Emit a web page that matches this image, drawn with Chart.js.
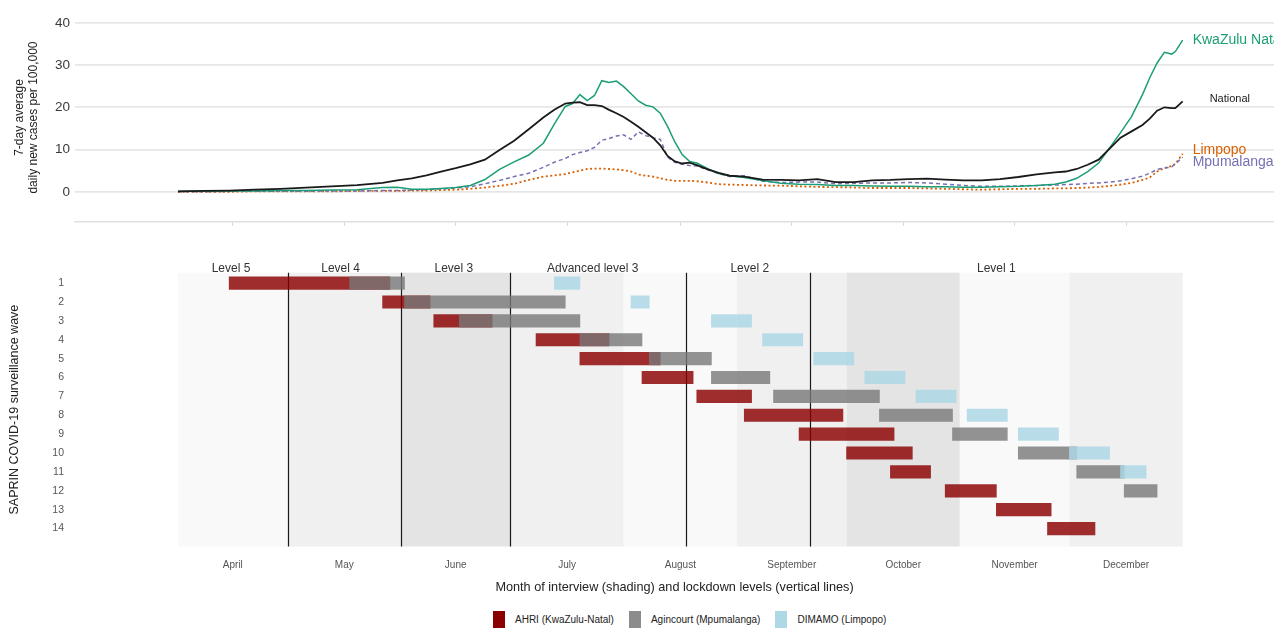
<!DOCTYPE html>
<html>
<head>
<meta charset="utf-8">
<script src="https://cdn.jsdelivr.net/npm/chart.js@4.4.1/dist/chart.umd.min.js"></script>
<style>
  html, body { margin: 0; padding: 0; background: #fff; }
  body { width: 1274px; height: 628px; overflow: hidden; position: relative;
         font-family: 'Liberation Sans', Arial, sans-serif; }
  #casesChart { position: absolute; left: 0; top: 0; }
  #wavesChart { position: absolute; left: 0; top: 250px; }
  #legend { position: absolute; left: 493px; top: 611px; display: flex;
            font-family: 'Liberation Sans Narrow', 'Arial Narrow', 'Liberation Sans', sans-serif;
            font-size: 10px; color: #222; }
  #legend .item { display: flex; margin-right: 15px; }
  #legend .swatch { width: 12px; height: 17px; margin-right: 10px; }
  #legend span { line-height: 17px; }
</style>
</head>
<body>
<canvas id="casesChart" width="1274" height="235"></canvas>
<canvas id="wavesChart" width="1274" height="345"></canvas>
<div id="legend"></div>
<script>
// days counted from 1 April 2020
const days = [0, 7, 14, 21, 28, 35, 42, 49, 56, 60, 64, 68, 72, 76, 80, 84, 88, 92, 96, 100,
  103, 106, 108, 110, 112, 114, 116, 118, 120, 122, 124, 126, 128, 130, 132, 134, 136, 138, 140, 142,
  145, 148, 151, 155, 160, 165, 170, 175, 180, 185, 190, 195, 200, 205, 210, 215, 220, 225, 230, 235, 240,
  243, 246, 249, 252, 255, 258, 261, 264, 266, 268, 270, 272, 273, 275];

const nationalCases = [0.1, 0.2, 0.3, 0.5, 0.7, 1.0, 1.3, 1.6, 2.1, 2.7, 3.2, 3.9, 4.8, 5.6, 6.5, 7.6, 9.9, 12.1, 14.8, 17.6,
  19.4, 20.9, 21.1, 21.2, 20.5, 20.5, 20.3, 19.4, 18.6, 17.7, 16.6, 15.4, 14.1, 12.8, 11.0, 8.5, 7.2, 6.7, 6.9, 6.3,
  5.3, 4.5, 3.8, 3.6, 2.9, 2.8, 2.7, 3.0, 2.3, 2.3, 2.7, 2.8, 3.0, 3.1, 2.9, 2.7, 2.7, 3.0, 3.5, 4.1, 4.6,
  4.8, 5.4, 6.4, 7.6, 10.2, 12.8, 14.3, 15.8, 17.3, 19.2, 20.0, 19.8, 19.8, 21.4];

const kznCases = [0.1, 0.1, 0.2, 0.2, 0.3, 0.3, 0.4, 0.5, 1.0, 1.1, 0.6, 0.6, 0.8, 1.0, 1.5, 2.9, 5.3, 7.1, 8.7, 11.5,
  16.0, 20.2, 20.9, 23.0, 21.6, 22.8, 26.3, 25.9, 26.2, 24.9, 23.2, 21.5, 20.5, 20.1, 18.6, 15.5, 11.8, 8.8, 7.2, 6.8,
  5.5, 4.3, 3.8, 3.4, 2.7, 2.0, 1.8, 1.7, 1.5, 1.5, 1.4, 1.3, 1.3, 1.2, 1.2, 1.1, 1.1, 1.2, 1.3, 1.5, 1.8,
  2.3, 3.2, 4.8, 6.8, 10.4, 14.0, 17.8, 23.0, 27.0, 30.5, 33.0, 32.6, 33.2, 35.9];

const mpumalangaCases = [0.0, 0.0, 0.1, 0.1, 0.1, 0.1, 0.2, 0.2, 0.3, 0.3, 0.4, 0.5, 0.7, 0.9, 1.2, 1.9, 2.7, 3.6, 4.4, 5.8,
  7.0, 7.9, 8.8, 9.3, 9.7, 10.5, 12.2, 12.6, 13.2, 13.5, 12.4, 14.2, 13.3, 12.8, 12.4, 8.2, 7.0, 6.5, 6.2, 6.1,
  5.2, 4.3, 3.6, 3.8, 2.5, 2.2, 2.3, 2.3, 1.9, 2.0, 2.1, 2.1, 2.2, 2.1, 1.8, 1.5, 1.3, 1.3, 1.4, 1.5, 1.6,
  1.7, 1.8, 2.0, 2.1, 2.3, 2.6, 3.1, 3.7, 4.4, 5.3, 5.6, 5.9, 6.6, 8.2];

const limpopoCases = [0.0, 0.0, 0.0, 0.1, 0.1, 0.1, 0.1, 0.2, 0.2, 0.2, 0.3, 0.3, 0.4, 0.5, 0.7, 1.0, 1.4, 1.9, 2.8, 3.6,
  3.9, 4.2, 4.6, 5.0, 5.4, 5.5, 5.5, 5.4, 5.3, 5.1, 4.8, 4.1, 3.8, 3.6, 3.2, 2.8, 2.6, 2.6, 2.6, 2.5,
  2.2, 1.8, 1.7, 1.6, 1.5, 1.45, 1.3, 1.15, 1.1, 1.0, 0.9, 0.9, 0.9, 0.8, 0.7, 0.6, 0.5, 0.6, 0.7, 0.7, 0.8,
  0.8, 0.9, 1.0, 1.15, 1.4, 1.7, 2.1, 2.8, 3.4, 4.8, 5.6, 6.1, 6.6, 9.0];

const caseTicks = [0, 10, 20, 30, 40];

const months = ['April', 'May', 'June', 'July', 'August', 'September', 'October', 'November', 'December'];
const monthStarts = [0, 30, 61, 91, 122, 153, 183, 214, 244, 275];

const lockdownLevels = ['Level 5', 'Level 4', 'Level 3', 'Advanced level 3', 'Level 2', 'Level 1'];
const levelLabelDays = [14.5, 44.5, 75.5, 113.5, 156.5, 224];
const lockdownChangeDays = [30, 61, 91, 139, 173];

const waves = [1, 2, 3, 4, 5, 6, 7, 8, 9, 10, 11, 12, 13, 14];
const ahriStart = [14, 56, 70, 98, 110, 127, 142, 155, 170, 183, 195, 210, 224, 238];
const ahriEnd   = [58, 69, 86, 118, 132, 141, 157, 182, 196, 201, 206, 224, 239, 251];
const agincourtStart = [47, 62, 77, 110, 129, 146, 163, 192, 212, 230, 246, 259, null, null];
const agincourtEnd   = [62, 106, 110, 127, 146, 162, 192, 212, 227, 246, 259, 268, null, null];
const dimamoStart = [103, 124, 146, 160, 174, 188, 202, 216, 230, 244, 258, null, null, null];
const dimamoEnd   = [110, 129, 157, 171, 185, 199, 213, 227, 241, 255, 265, null, null, null];

// shared x range so both panels line up
const X_MIN = -28.2, X_MAX = 300;
const monthMids = months.map((m, i) => (monthStarts[i] + monthStarts[i + 1]) / 2);
const monthShades = ['#f9f9f9', '#f0f0f0', '#e4e4e4', '#f0f0f0', '#f9f9f9', '#f0f0f0', '#e4e4e4', '#f9f9f9', '#f0f0f0'];
const NARROW = "'Liberation Sans Narrow', 'Arial Narrow', 'Liberation Sans', sans-serif";

Chart.defaults.font.family = "'Liberation Sans', Arial, sans-serif";
Chart.defaults.color = '#333';

function points(values) {
  return days.map((d, i) => ({ x: d, y: values[i] }));
}

const endLabels = {
  id: 'endLabels',
  afterDatasetsDraw(chart) {
    const ctx = chart.ctx;
    chart.data.datasets.forEach((ds, i) => {
      const meta = chart.getDatasetMeta(i);
      const last = meta.data[meta.data.length - 1];
      const lab = ds.endLabel;
      ctx.save();
      ctx.font = lab.size + "px 'Liberation Sans', Arial, sans-serif";
      ctx.fillStyle = ds.borderColor;
      ctx.textBaseline = 'middle';
      ctx.fillText(ds.label, last.x + lab.dx, last.y + lab.dy);
      ctx.restore();
    });
  }
};

new Chart(document.getElementById('casesChart'), {
  type: 'line',
  data: {
    datasets: [
      { label: 'National', data: points(nationalCases), borderColor: '#1a1a1a', borderWidth: 1.8,
        endLabel: { dx: 27, dy: -2, size: 11 } },
      { label: 'KwaZulu Natal', data: points(kznCases), borderColor: '#1b9e77', borderWidth: 1.5,
        endLabel: { dx: 10, dy: 0, size: 14 } },
      { label: 'Mpumalanga', data: points(mpumalangaCases), borderColor: '#7570b3', borderWidth: 1.5,
        borderDash: [4, 3], endLabel: { dx: 10, dy: 5, size: 14 } },
      { label: 'Limpopo', data: points(limpopoCases), borderColor: '#d95f02', borderWidth: 1.8,
        borderDash: [2, 2.5], endLabel: { dx: 10, dy: -4, size: 14 } }
    ]
  },
  options: {
    responsive: false,
    animation: false,
    layout: { padding: { top: 10, right: 0, left: 0, bottom: 0 } },
    elements: { point: { radius: 0 }, line: { tension: 0 } },
    plugins: { legend: { display: false }, tooltip: { enabled: false } },
    scales: {
      x: {
        type: 'linear', min: X_MIN, max: X_MAX,
        afterBuildTicks: s => { s.ticks = monthMids.map(v => ({ value: v })); },
        afterFit: s => { s.height = 10; },
        ticks: { display: false },
        grid: { drawOnChartArea: false, drawTicks: true, tickLength: 4, color: '#d6d6d6', lineWidth: 1 },
        border: { display: true, color: '#e0e0e0', width: 1.5 }
      },
      y: {
        min: -7.126, max: 42.3,
        afterBuildTicks: s => { s.ticks = caseTicks.map(v => ({ value: v })); },
        afterFit: s => { s.width = 75; },
        ticks: { padding: 5, color: '#3a3a3a', font: { size: 13.5 } },
        grid: { color: '#e6e6e6', lineWidth: 1.8, drawTicks: false },
        border: { display: false },
        title: { display: true, text: ['7-day average', 'daily new cases per 100,000'], color: '#222',
                 font: { size: 12, lineHeight: 1.167 }, padding: { top: 12.5, bottom: 0 } }
      }
    }
  },
  plugins: [endLabels]
});

const monthShading = {
  id: 'monthShading',
  beforeDatasetsDraw(chart) {
    const { ctx, chartArea, scales: { x } } = chart;
    ctx.save();
    months.forEach((m, i) => {
      const x0 = x.getPixelForValue(monthStarts[i]);
      const x1 = x.getPixelForValue(monthStarts[i + 1]);
      ctx.fillStyle = monthShades[i];
      ctx.fillRect(x0, chartArea.top, x1 - x0, chartArea.bottom - chartArea.top);
    });
    ctx.strokeStyle = '#1a1a1a';
    ctx.lineWidth = 1.2;
    lockdownChangeDays.forEach(d => {
      const px = Math.round(x.getPixelForValue(d)) + 0.5;
      ctx.beginPath();
      ctx.moveTo(px, chartArea.top);
      ctx.lineTo(px, chartArea.bottom);
      ctx.stroke();
    });
    ctx.restore();
  },
  afterDraw(chart) {
    const { ctx, chartArea, scales: { x } } = chart;
    ctx.save();
    ctx.font = "12px 'Liberation Sans', Arial, sans-serif";
    ctx.fillStyle = '#333';
    ctx.textAlign = 'center';
    ctx.textBaseline = 'middle';
    lockdownLevels.forEach((lvl, i) => {
      ctx.fillText(lvl, x.getPixelForValue(levelLabelDays[i]), chartArea.top - 4.5);
    });
    ctx.restore();
  }
};

function floatBars(starts, ends) {
  return waves.map((w, i) => starts[i] == null ? null : { y: w, x: [starts[i], ends[i]] }).filter(Boolean);
}

const siteSets = [
  { label: 'AHRI (KwaZulu-Natal)', data: floatBars(ahriStart, ahriEnd),
    backgroundColor: 'rgba(139, 0, 0, 0.82)', swatch: '#8b0000', order: 3 },
  { label: 'Agincourt (Mpumalanga)', data: floatBars(agincourtStart, agincourtEnd),
    backgroundColor: 'rgba(120, 120, 120, 0.8)', swatch: '#8c8c8c', order: 2 },
  { label: 'DIMAMO (Limpopo)', data: floatBars(dimamoStart, dimamoEnd),
    backgroundColor: 'rgba(173, 216, 230, 0.85)', swatch: '#add8e6', order: 1 }
];

new Chart(document.getElementById('wavesChart'), {
  type: 'bar',
  data: {
    datasets: siteSets.map(s => ({
      label: s.label, data: s.data, backgroundColor: s.backgroundColor,
      order: s.order, grouped: false, barThickness: 12.5, borderWidth: 0
    }))
  },
  options: {
    indexAxis: 'y',
    responsive: false,
    animation: false,
    layout: { padding: { top: 22.7, right: 0, left: 0, bottom: 0 } },
    plugins: { legend: { display: false }, tooltip: { enabled: false } },
    scales: {
      x: {
        type: 'linear', min: X_MIN, max: X_MAX,
        afterBuildTicks: s => { s.ticks = monthMids.map(v => ({ value: v })); },
        afterFit: s => { s.height = 48.5; },
        ticks: { padding: 5, color: '#555', font: { family: NARROW, size: 10 },
                 callback: (v, i) => months[i] },
        grid: { display: false },
        border: { display: false },
        title: { display: true, text: 'Month of interview (shading) and lockdown levels (vertical lines)',
                 color: '#222', font: { family: NARROW, size: 12.7 }, padding: { top: 0, bottom: 0 } }
      },
      y: {
        type: 'linear', reverse: true, offset: false, min: 0.45, max: 14.95,
        afterBuildTicks: s => { s.ticks = waves.map(v => ({ value: v })); },
        afterFit: s => { s.width = 75; },
        ticks: { padding: 3, color: '#555', font: { family: NARROW, size: 10.5 } },
        grid: { display: false },
        border: { display: false },
        title: { display: true, text: 'SAPRIN COVID-19 surveillance wave', color: '#222',
                 font: { size: 12.5, lineHeight: 1.2 }, padding: { top: 7.5, bottom: 0 } }
      }
    }
  },
  plugins: [monthShading]
});

// legend in dataset order
const legendBox = document.getElementById('legend');
siteSets.forEach(s => {
  const item = document.createElement('div');
  item.className = 'item';
  item.innerHTML = '<div class="swatch" style="background:' + s.swatch + '"></div><span>' + s.label + '</span>';
  legendBox.appendChild(item);
});
</script>
</body>
</html>
